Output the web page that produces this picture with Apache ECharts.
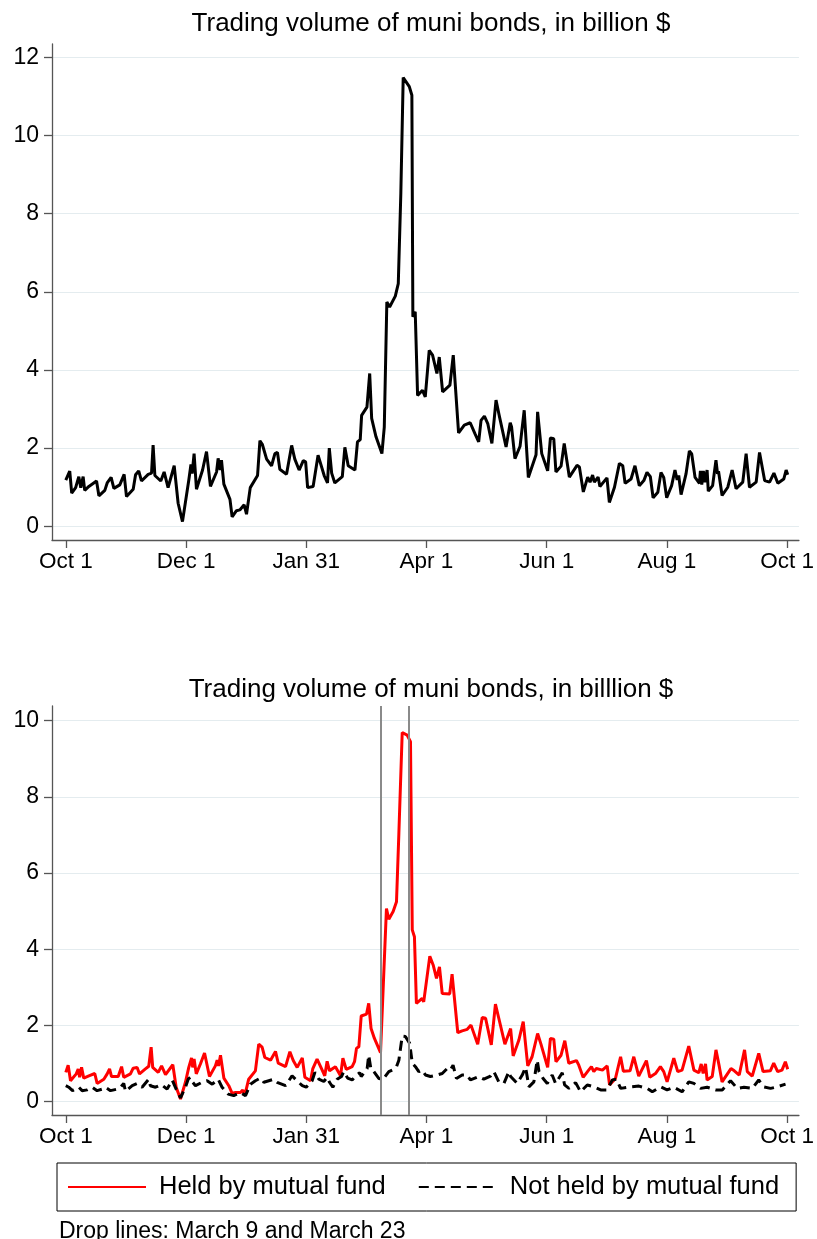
<!DOCTYPE html>
<html><head><meta charset="utf-8">
<script src="https://cdn.jsdelivr.net/npm/echarts@6/dist/echarts.min.js"></script>
<style>html,body{margin:0;padding:0;background:#fff}#c{width:817px;height:1239px}</style>
</head><body><div id="c"></div>
<script>
// Day offsets from Oct 1 2019
const tickDays = [0, 61, 122, 183, 244, 305, 366];
const tickLabels = ['Oct 1', 'Dec 1', 'Jan 31', 'Apr 1', 'Jun 1', 'Aug 1', 'Oct 1'];
const yTicksTop = [0, 2, 4, 6, 8, 10, 12];
const yTicksBottom = [0, 2, 4, 6, 8, 10];
const dropLineDays = [160, 174]; // March 9, March 23

const totalVolume = [
[0,1.18],[2,1.41],[3,0.85],[5,0.99],[6.6,1.27],[7.6,0.99],[8.8,1.27],[9.6,0.92],[11.7,1.02],[15.6,1.16],[16.8,0.78],[19.8,0.92],[21,1.11],[23,1.25],[24.4,0.97],[27.4,1.06],[29.6,1.33],[30.8,0.76],[34.2,0.95],[35.4,1.32],[37,1.42],[38.4,1.16],[41.8,1.33],[43.5,1.36],[44.3,2.08],[45.2,1.30],[48.2,1.16],[49.9,1.39],[51.9,0.99],[55,1.55],[57,0.59],[59.2,0.12],[62.4,1.18],[63.5,1.58],[64.1,1.35],[65.1,1.86],[66.3,0.95],[69.4,1.44],[71.4,1.91],[73.4,1.02],[76.5,1.39],[77.3,1.74],[78.3,1.44],[79,1.69],[80.2,1.08],[83.3,0.69],[84.4,0.24],[86.6,0.40],[88.3,0.42],[90.5,0.55],[91.7,0.31],[93.6,0.99],[97.3,1.30],[98.5,2.19],[99.7,2.10],[101.9,1.72],[104.4,1.55],[106.1,1.86],[107.4,1.89],[108.6,1.46],[112,1.33],[114.6,2.07],[116.2,1.72],[118.4,1.44],[120.5,1.68],[121.7,1.65],[122.7,0.99],[125.5,1.02],[128,1.82],[131.1,1.30],[132.8,1.11],[133.7,2.00],[134.9,1.36],[136.5,1.11],[140.3,1.27],[141.6,2.02],[143.3,1.55],[146.7,1.44],
[148,2.16],[149.4,2.22],[150.1,2.84],[152.8,3.05],[154.2,3.91],[155.2,2.76],[156,2.71],[157.4,2.29],[160.4,1.86],[161.6,2.54],[162.9,5.74],[164.3,5.61],[167.2,5.89],[168.7,6.21],[170,8.52],[171.2,11.48],[174.3,11.25],[175.6,11.03],[176.1,5.36],[177.3,5.49],[178.5,3.35],[181,3.48],[182.4,3.31],[184.4,4.50],[186.1,4.38],[188.3,3.91],[189.5,4.33],[191.2,3.44],[194.9,3.61],[196.6,4.38],[199.3,2.39],[202.2,2.59],[205.2,2.65],
[207.6,2.37],[209.5,2.16],[210.7,2.71],[212.4,2.82],[214.1,2.63],[216.2,2.12],[218.3,3.23],[219.9,2.84],[223.4,2.03],[225.5,2.65],[226.2,2.54],[227.9,1.73],[230.5,2.05],[232.6,2.97],[234.7,1.25],[238.6,1.83],[239.4,2.93],[241.5,1.86],[244.5,1.42],[245.9,2.26],[247.6,2.24],[248.7,1.39],[251.3,1.54],[252.9,2.12],[255.5,1.26],[259.4,1.56],[260.6,1.52],[262.6,0.88],[264.8,1.26],[266,1.13],[267.3,1.31],[268.2,1.13],[270.1,1.26],[271,1.02],[274.6,1.24],[275.8,0.61],[278.4,1.0],[280.9,1.61],
[282.6,1.55],[283.8,1.10],[286.8,1.21],[288.8,1.55],[291,1.04],[293.3,1.17],[294.9,1.38],[296.6,1.27],[298,0.73],[300.4,0.87],[302,1.38],[303.4,1.25],[304.9,0.73],[307.4,1.04],[309.1,1.44],[310.2,1.19],[311,1.30],[312.2,0.81],[314.7,1.34],[316.4,1.93],[317.6,1.85],[319.3,1.25],[321.5,1.10],[322,1.42],[322.7,1.07],[323.5,1.42],[324.2,1.13],[325.4,1.44],[326,0.90],[328.2,1.04],[329.9,1.69],[330.7,1.34],[331.2,1.41],[333,0.79],[335.9,1.00],[338.1,1.44],[340.1,0.96],[343.5,1.13],[345.2,1.86],[346.9,1.00],[350.3,1.13],[352,1.89],[354.6,1.17],[357.1,1.13],[359.3,1.36],[360,1.34],[361.3,1.10],[364.3,1.21],[365.5,1.44],[366.3,1.32]
];

const heldByFund = [
[0,0.77],[1.2,0.96],[2.4,0.55],[5.3,0.73],[6.3,0.86],[7,0.64],[8,0.90],[9.1,0.62],[11.7,0.68],[14.7,0.74],[15.9,0.48],[19.3,0.59],[21,0.73],[22.2,0.86],[23.2,0.66],[26.6,0.66],[28.3,0.92],[29.4,0.64],[32.8,0.73],[34.2,0.88],[36.2,0.90],[37.4,0.73],[40.4,0.86],[42.1,0.93],[43.3,1.43],[44.1,0.90],[46.9,0.77],[48.6,0.94],[50.6,0.71],[54.3,0.97],[56,0.38],[58.2,0.07],[60.7,0.51],[62.4,0.90],[63.8,1.15],[64.4,0.90],[65.1,1.12],[66.2,0.73],[68.3,0.99],[70.4,1.28],[72.9,0.66],[75.9,0.94],[76.8,1.09],[77.5,0.94],[78.5,1.22],[80.2,0.62],[82.7,0.42],[84.4,0.22],[86.1,0.24],[88.6,0.24],[89.8,0.31],[90.8,0.16],[92.8,0.59],[96.2,0.81],[97.9,1.51],[99.6,1.43],[101,1.16],[103.9,1.09],[106.4,1.32],[107.8,1.01],[111.5,0.92],[113.7,1.31],[115.4,1.08],[117.4,0.90],[120,1.15],[121.3,0.64],[124.2,0.55],[125.3,0.86],[127.5,1.12],[130.1,0.83],[131.4,0.68],[132.6,1.06],[133.8,0.81],[136.8,0.92],[139.4,0.68],
[140.6,1.14],[142.3,0.85],[145.3,0.92],[146.5,1.05],[147.5,1.40],[148.7,1.44],[149.9,2.25],[152.6,2.30],[153.7,2.58],[154.9,1.92],[156.6,1.66],[159.7,1.29],[162.7,5.07],[163.9,4.79],[166.1,4.99],[167.8,5.25],[169,7.04],[170.7,9.69],[173.2,9.62],[174.9,9.45],[175.8,4.51],[176.9,4.33],[177.9,2.58],[180.8,2.71],[181.6,2.62],[184.7,3.82],[186.4,3.59],[188.1,3.24],[189.6,3.54],[191,2.84],[194.8,2.83],[196,3.35],
[198.9,1.81],[201.1,1.86],[203.7,1.90],[205.6,2.01],[209,1.51],[211.3,2.21],[213,2.19],[215.9,1.49],[218,2.56],[219.7,2.19],[222.8,1.51],[225.7,1.92],[227,1.20],[229.9,1.62],[232.1,2.10],[234.4,0.94],[236.6,1.18],[239.4,1.79],[241.1,1.51],[244.5,0.90],[245.9,1.66],[247.6,1.64],[248.7,1.05],[251.3,1.22],[253.2,1.60],[255.2,1.01],[259.1,1.08],[260.3,0.96],[262.5,0.64],[265,0.81],[266.7,0.92],[267.9,0.79],[269.2,0.87],[272.3,0.83],[274.7,0.94],[275.9,0.44],[278.9,0.61],[281.5,1.18],[282.9,0.80],[286.3,0.81],[288.2,1.18],[290.7,0.67],[294.6,1.08],[296.3,0.64],[299.2,0.74],[301.7,0.92],[303.4,0.79],[305.1,0.52],[308.5,1.14],[310.5,0.79],[312.7,0.83],[316.1,1.46],[318.7,0.83],[321.2,0.76],[322.4,0.99],[323.4,0.74],[324.6,0.99],[325.4,0.57],[328,0.66],[329.9,1.36],[331.6,0.92],[333,0.52],[337.5,0.87],[339.2,0.81],[341.7,0.70],[344.4,1.36],[345.8,0.79],[348.3,0.67],[351.6,1.27],[353.8,0.79],[357.5,0.81],[359.2,1.01],[361.2,0.79],[363.4,0.83],[365.1,1.05],[366.3,0.85]
];

const notHeldByFund = [
[0,0.42],[1.5,0.38],[3.4,0.29],[4.9,0.33],[6.6,0.38],[8.3,0.29],[10.8,0.31],[13.4,0.38],[15.9,0.29],[18.5,0.33],[20.1,0.38],[22.7,0.29],[26,0.33],[27.8,0.38],[29.4,0.48],[30.3,0.27],[33.7,0.42],[36.2,0.48],[38.7,0.38],[42.1,0.59],[42.9,0.42],[45.5,0.38],[48.5,0.45],[51.4,0.33],[54,0.57],[56,0.33],[58.2,0.10],[60.7,0.38],[62.1,0.59],[63.2,0.64],[64.4,0.51],[65.8,0.42],[69.2,0.51],[71.7,0.55],[74.3,0.46],[77.3,0.59],[79.3,0.38],[82.4,0.20],[85.2,0.16],[88.6,0.24],[91.2,0.16],[93.7,0.46],[96.2,0.55],[98.8,0.62],[100.5,0.51],[103,0.55],[105.6,0.59],[107.2,0.51],[111.5,0.42],[114.8,0.68],[116.9,0.57],[120,0.42],[122,0.38],[125,0.55],[126.4,0.77],[128.4,0.59],[130.9,0.53],[132.6,0.64],[133.8,0.51],[135.5,0.38],[137.7,0.59],[139.9,0.66],
[141,0.79],[143,0.62],[145.3,0.57],[147.5,0.70],[149.2,0.76],[149.9,0.66],[152.9,0.87],[153.7,1.22],[154.9,0.83],[156.3,0.79],[158.8,0.61],[161,0.59],[163.9,0.79],[166.4,0.85],[167.8,0.92],[169,1.09],[170.7,1.72],[172.3,1.71],[174.5,1.53],[175.8,1.01],[177.4,0.92],[179.1,0.79],[180.8,0.83],[182.5,0.70],[185,0.66],[188.4,0.70],[191,0.74],[193.5,0.87],[195.1,0.83],[196.5,0.96],
[198.2,0.61],[201.1,0.70],[203.6,0.70],[205.3,0.57],[209.5,0.66],[212.1,0.59],[215.5,0.67],[217.2,0.79],[219.7,0.52],[222.3,0.48],[224.8,0.79],[225.6,0.67],[229,0.48],[231.6,0.70],[233.3,0.90],[235,0.39],[237.5,0.52],[239.2,1.09],[240.1,0.79],[242.2,0.61],[244.3,0.48],[246.8,0.70],[248.5,0.48],[251.9,0.76],[253.1,0.44],[255.3,0.35],[258.7,0.50],[261.2,0.26],[264.6,0.44],[268,0.39],[271.4,0.31],[274.7,0.31],[277.3,0.57],[279.4,0.59],[281.5,0.35],[284.9,0.38],[290.8,0.41],[295,0.35],[297.6,0.26],[301.8,0.39],[305.1,0.31],[308.5,0.38],[312.7,0.26],[316.1,0.52],[318.7,0.48],[322.1,0.35],[325.4,0.38],[329.7,0.31],[333.1,0.31],[337.3,0.55],[340.7,0.35],[344.1,0.38],[348.3,0.35],[351.6,0.57],[354.2,0.39],[357.6,0.35],[361,0.39],[365.2,0.46]
];

const FONT = '"Liberation Sans", Arial, Helvetica, sans-serif';
const AX = '#555555';

function xAxisCfg(gridIndex) {
  return {
    type: 'value', gridIndex, min: -7, max: 372,
    axisLine: { show: true, onZero: false, lineStyle: { color: AX, width: 1.3 } },
    axisTick: { show: true, customValues: tickDays, length: 8, lineStyle: { color: AX, width: 1.3 } },
    axisLabel: {
      customValues: tickDays, fontSize: 22.5, color: '#000', fontFamily: FONT, margin: 10,
      formatter: v => { const i = tickDays.indexOf(v); return i >= 0 ? tickLabels[i] : ''; }
    },
    splitLine: { show: false }
  };
}
function yAxisCfg(gridIndex, min, max, ticks) {
  return {
    type: 'value', gridIndex, min, max,
    axisLine: { show: true, onZero: false, lineStyle: { color: AX, width: 1.3 } },
    axisTick: { show: true, customValues: ticks, length: 8, lineStyle: { color: AX, width: 1.3 } },
    axisLabel: { customValues: ticks, fontSize: 23, color: '#000', fontFamily: FONT, margin: 13 },
    splitLine: { show: true, lineStyle: { color: '#e4ecef', width: 1.2 } }
  };
}

const chart = echarts.init(document.getElementById('c'), null, { renderer: 'canvas' });
chart.setOption({
  animation: false,
  backgroundColor: '#fff',
  title: [
    { text: 'Trading volume of muni bonds, in billion $', left: 426, top: 6, textAlign: 'center',
      textStyle: { fontFamily: FONT, fontSize: 26, fontWeight: 'normal', color: '#000' } },
    { text: 'Trading volume of muni bonds, in billlion $', left: 426, top: 672, textAlign: 'center',
      textStyle: { fontFamily: FONT, fontSize: 26, fontWeight: 'normal', color: '#000' } },
    { text: 'Drop lines: March 9 and March 23', left: 54, top: 1215,
      textStyle: { fontFamily: FONT, fontSize: 23, fontWeight: 'normal', color: '#000' } }
  ],
  grid: [
    { left: 52, right: 17, top: 44, height: 496 },
    { left: 52, right: 17, top: 706, height: 409 }
  ],
  xAxis: [xAxisCfg(0), xAxisCfg(1)],
  yAxis: [yAxisCfg(0, -0.35, 12.34, yTicksTop), yAxisCfg(1, -0.349, 10.386, yTicksBottom)],
  legend: {
    data: ['Held by mutual fund', 'Not held by mutual fund'],
    left: 57, top: 1163, orient: 'horizontal',
    itemWidth: 78, itemHeight: 14, itemGap: 32,
    padding: [11, 17, 11, 10],
    borderColor: '#000', borderWidth: 1,
    itemStyle: { opacity: 0 },
    textStyle: { fontFamily: FONT, fontSize: 25.5, color: '#000', padding: [0, 0, 0, 8] }
  },
  series: [
    { name: 'Total', type: 'line', xAxisIndex: 0, yAxisIndex: 0, data: totalVolume,
      symbol: 'none', lineStyle: { color: '#000', width: 3 }, itemStyle: { color: '#000' } },
    { name: 'Drop lines', type: 'line', xAxisIndex: 1, yAxisIndex: 1, data: [], z: 1,
      markLine: { silent: true, symbol: 'none', label: { show: false },
        lineStyle: { color: '#8a8a8a', width: 2, type: 'solid' },
        data: dropLineDays.map(d => ({ xAxis: d })) } },
    { name: 'Held by mutual fund', type: 'line', xAxisIndex: 1, yAxisIndex: 1, data: heldByFund, z: 3,
      symbol: 'none', lineStyle: { color: '#ff0000', width: 3 }, itemStyle: { color: '#ff0000' } },
    { name: 'Not held by mutual fund', type: 'line', xAxisIndex: 1, yAxisIndex: 1, data: notHeldByFund, z: 3,
      symbol: 'none', lineStyle: { color: '#000', width: 3, type: [10, 6] }, itemStyle: { color: '#000' } }
  ]
});
</script>
</body></html>
